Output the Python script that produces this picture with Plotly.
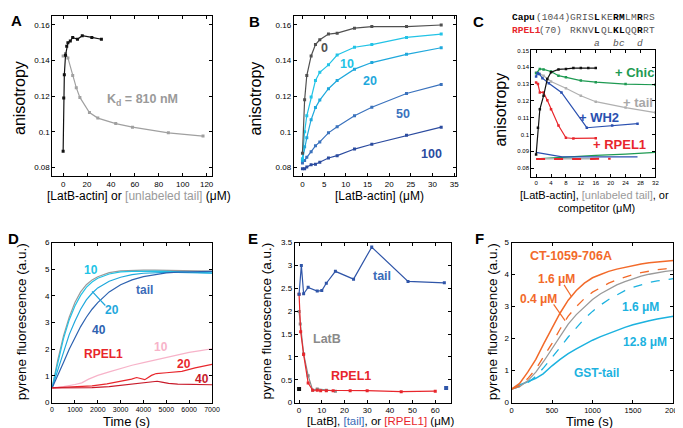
import plotly.graph_objects as go

W, H = 683, 428
FONT = "Liberation Sans, Arial, Helvetica, sans-serif"
MONO = "Liberation Mono, DejaVu Sans Mono, monospace"

# ---------------- Panel A ----------------
a_latb_x = [0, 0.5, 1, 2, 3, 4, 6, 8, 12, 16, 24, 32]
a_latb_y = [0.089, 0.119, 0.132, 0.143, 0.148, 0.150, 0.151, 0.153, 0.152, 0.154, 0.153, 0.152]
a_tail_x = [0, 2, 4, 8, 11, 14, 22, 29, 44, 58, 88, 117]
a_tail_y = [0.1426, 0.144, 0.1415, 0.1316, 0.1248, 0.1193, 0.1108, 0.1077, 0.1046, 0.1026, 0.0994, 0.0976]

# ---------------- Panel B ----------------
b_x = [0, 0.5, 1, 2, 3, 4, 6, 8, 12, 16, 24, 32]
b_0 = [0.088, 0.118, 0.1316, 0.1426, 0.149, 0.1517, 0.1549, 0.1554, 0.1582, 0.1591, 0.1591, 0.160]
b_10 = [0.0848, 0.100, 0.109, 0.1196, 0.1288, 0.1334, 0.1376, 0.1431, 0.1475, 0.149, 0.153, 0.1549]
b_20 = [0.0839, 0.0916, 0.0967, 0.1068, 0.1136, 0.1178, 0.1242, 0.1288, 0.1352, 0.1389, 0.1435, 0.1472]
b_50 = [0.0824, 0.0839, 0.0857, 0.0888, 0.0921, 0.0943, 0.0994, 0.1028, 0.109, 0.1138, 0.1215, 0.1266]
b_100 = [0.0793, 0.0793, 0.0802, 0.0815, 0.0818, 0.0829, 0.0853, 0.0866, 0.0903, 0.093, 0.098, 0.1026]

# ---------------- Panel C ----------------
c_latb_x = [0, 0.5, 1, 2, 3, 4, 6, 8, 10, 12, 14, 16]
c_latb_y = [0.088, 0.104, 0.115, 0.123, 0.133, 0.137, 0.1387, 0.139, 0.1395, 0.1395, 0.1395, 0.1395]
c_chic_x = [0, 1, 2, 4, 6, 8, 12, 16, 24, 32]
c_chic_y = [0.1364, 0.139, 0.1387, 0.1375, 0.135, 0.134, 0.1321, 0.1311, 0.130, 0.1296]
c_tail_x = [0, 0.5, 1, 2, 4, 8, 12, 16, 24, 32]
c_tail_y = [0.137, 0.137, 0.136, 0.135, 0.1315, 0.1275, 0.123, 0.1195, 0.116, 0.113]
c_wh2_x = [0, 0.42, 0.85, 1.7, 3.4, 6.8, 13.6, 20.4, 27.2]
c_wh2_y = [0.1345, 0.1365, 0.136, 0.1335, 0.1305, 0.125, 0.104, 0.1053, 0.1064]
c_rpel_x = [0, 0.5, 1, 2, 3, 4, 6, 8, 10, 16]
c_rpel_y = [0.131, 0.130, 0.125, 0.125, 0.1204, 0.115, 0.1053, 0.098, 0.0976, 0.0978]
c_ctl_blue_x = [0, 7, 27.2]
c_ctl_blue_y = [0.0893, 0.0866, 0.0866]
c_ctl_green_x = [0, 8, 16, 24, 32]
c_ctl_green_y = [0.0855, 0.0866, 0.0875, 0.0883, 0.0893]
c_ctl_gray_x = [0, 16]
c_ctl_gray_y = [0.0855, 0.0855]
c_ctl_red_x = [0, 20]
c_ctl_red_y = [0.0853, 0.0855]

# sequence header text of panel C
seq_capu = "GRISLKERMLMRRS"
seq_rpel = "RKNVLQLKLQQRRT"
seq_bold = [4, 7, 8, 11]
seq_marks = {4: "a", 7: "b", 8: "c", 11: "d"}

# ---------------- Panel D ----------------
d_t = [0, 250, 500, 750, 1000, 1250, 1500, 1750, 2000, 2500, 3000, 3500, 4000, 4500, 5000, 5500, 6000, 6500, 7000]
d_ctrl = [0.55, 1.6, 2.5, 3.2, 3.75, 4.15, 4.42, 4.6, 4.72, 4.87, 4.94, 4.96, 4.97, 4.97, 4.96, 4.95, 4.94, 4.93, 4.93]
d_tail10 = [0.55, 1.5, 2.4, 3.1, 3.62, 4.02, 4.32, 4.52, 4.66, 4.82, 4.9, 4.92, 4.93, 4.93, 4.92, 4.91, 4.9, 4.88, 4.86]
d_tail20 = [0.55, 1.2, 1.9, 2.55, 3.05, 3.5, 3.85, 4.1, 4.3, 4.55, 4.7, 4.8, 4.85, 4.87, 4.88, 4.88, 4.87, 4.86, 4.85]
d_tail40 = [0.55, 1.0, 1.5, 2.0, 2.45, 2.85, 3.2, 3.5, 3.75, 4.15, 4.42, 4.6, 4.72, 4.8, 4.86, 4.89, 4.9, 4.91, 4.92]
d_r10_t = [0, 500, 1000, 1300, 1600, 2000, 2500, 3000, 3500, 4000, 4500, 5000, 5500, 6000, 6500, 7000]
d_r10 = [0.55, 0.6, 0.68, 0.74, 0.88, 1.02, 1.15, 1.28, 1.4, 1.5, 1.6, 1.7, 1.8, 1.88, 1.95, 2.02]
d_r20_t = [0, 1000, 1750, 2400, 2900, 3200, 3480, 3700, 3850, 4060, 4350, 4560, 5000, 5680, 6260, 7000]
d_r20 = [0.55, 0.58, 0.63, 0.7, 0.78, 0.82, 0.88, 0.94, 0.9, 0.86, 1.02, 1.09, 1.12, 1.17, 1.3, 1.43]
d_r40_t = [0, 1750, 2500, 3300, 4300, 4600, 4800, 5100, 5500, 6000, 7000]
d_r40 = [0.55, 0.56, 0.6, 0.67, 0.76, 0.8, 0.77, 0.72, 0.69, 0.68, 0.67]

# ---------------- Panel E ----------------
e_tail_x = [0, 1, 2, 4, 8, 10, 12, 16, 24, 32, 48, 64]
e_tail_y = [2.37, 3.0, 2.38, 2.52, 2.44, 2.45, 2.61, 2.87, 2.70, 3.40, 2.65, 2.62]
e_rpel_x = [0, 0.7, 2, 4, 6, 8, 9.5, 12, 15, 22.5, 30, 45, 60]
e_rpel_y = [2.37, 1.55, 1.05, 0.43, 0.27, 0.27, 0.26, 0.26, 0.26, 0.26, 0.26, 0.24, 0.25]
e_latb_x = [0, 0.5, 2, 4, 6, 8, 12, 16]
e_latb_y = [1.99, 1.72, 1.07, 0.59, 0.27, 0.30, 0.27, 0.25]
e_ctl_black_x = [0]
e_ctl_black_y = [0.30]
e_ctl_blue_x = [64.8]
e_ctl_blue_y = [0.32]

# ---------------- Panel F ----------------
f_t = [0, 100, 200, 300, 400, 500, 600, 700, 800, 900, 1000, 1100, 1200, 1300, 1400, 1500, 1600, 1700, 1800, 1900, 2000]
f_ct16 = [0.42, 0.6, 0.95, 1.35, 1.85, 2.35, 2.8, 3.2, 3.5, 3.73, 3.9, 4.0, 4.1, 4.17, 4.23, 4.28, 4.33, 4.37, 4.4, 4.42, 4.44]
f_ct04 = [0.42, 0.52, 0.75, 1.05, 1.45, 1.85, 2.3, 2.7, 3.0, 3.25, 3.45, 3.6, 3.73, 3.84, 3.93, 4.0, 4.06, 4.11, 4.15, 4.18, 4.21]
f_ctrl = [0.42, 0.5, 0.68, 0.95, 1.3, 1.68, 2.05, 2.45, 2.75, 3.0, 3.22, 3.4, 3.55, 3.68, 3.78, 3.87, 3.95, 4.01, 4.06, 4.1, 4.13]
f_gst16 = [0.42, 0.5, 0.62, 0.82, 1.1, 1.4, 1.72, 2.05, 2.35, 2.62, 2.85, 3.05, 3.22, 3.37, 3.5, 3.6, 3.68, 3.75, 3.8, 3.84, 3.87]
f_gst128_t = [0, 100, 200, 300, 390, 450, 500, 600, 700, 800, 900, 1000, 1100, 1200, 1300, 1400, 1500, 1600, 1700, 1800, 1900, 2000]
f_gst128 = [0.42, 0.55, 0.65, 0.76, 0.9, 1.05, 1.15, 1.35, 1.53, 1.68, 1.82, 1.95, 2.06, 2.16, 2.26, 2.35, 2.43, 2.5, 2.56, 2.61, 2.66, 2.7]

# colours
BLACK = "#111111"
GRAY = "#a0a0a0"
CYAN1 = "#22c3e6"
CYAN2 = "#1fa8dc"
BLUE1 = "#3a72bd"
BLUE2 = "#2b4b9f"
GREEN = "#1e9a52"
RED = "#e8262c"
DRED = "#c81a2a"
PINK = "#f7b3c9"
ORANGE = "#f26a2a"
FCYAN = "#1cb2df"


def xd(a, b):
    return [a / W, b / W]


def yd(top, bottom):
    return [1 - bottom / H, 1 - top / H]


def axis(domain, rng, dtick, anchor, size=8, tick0=0):
    return dict(domain=domain, range=rng, dtick=dtick, tick0=tick0, anchor=anchor,
                ticks="inside", ticklen=3, tickwidth=1, tickcolor="black",
                showline=True, linecolor="black", linewidth=1, mirror="ticks",
                showgrid=False, zeroline=False, fixedrange=True,
                tickfont=dict(size=size, family=FONT, color="black"))


fig = go.Figure()


def line(x, y, color, ax, width=1.2, marker=True, dash=None, msize=3):
    fig.add_trace(go.Scatter(
        x=x, y=y, xaxis=ax[0], yaxis=ax[1],
        mode="lines+markers" if marker else "lines",
        line=dict(color=color, width=width, dash=dash),
        marker=dict(symbol="square", size=msize, color=color),
        showlegend=False, hoverinfo="skip"))


A = ("x", "y"); B = ("x2", "y2"); C = ("x3", "y3")
D = ("x4", "y4"); E = ("x5", "y5"); F = ("x6", "y6")

# A
line(a_tail_x, a_tail_y, GRAY, A)
line(a_latb_x, a_latb_y, BLACK, A)
# B
line(b_x, b_100, BLUE2, B)
line(b_x, b_50, BLUE1, B)
line(b_x, b_20, CYAN2, B)
line(b_x, b_10, CYAN1, B)
line(b_x, b_0, "#505050", B)
# C
line(c_ctl_green_x, c_ctl_green_y, GREEN, C, marker=False)
line(c_ctl_blue_x, c_ctl_blue_y, "#2a50b0", C, marker=False)
line(c_ctl_gray_x, c_ctl_gray_y, "#b0b0b0", C, marker=False, width=1.5)
line(c_ctl_red_x, c_ctl_red_y, RED, C, marker=False, width=2, dash="dash")
line(c_tail_x, c_tail_y, "#b0b0b0", C, msize=2.5)
line(c_chic_x, c_chic_y, GREEN, C, msize=2.5)
line(c_wh2_x, c_wh2_y, "#2a50b0", C, msize=2.5)
line(c_rpel_x, c_rpel_y, RED, C, msize=2.5)
line(c_latb_x, c_latb_y, BLACK, C, msize=2.5)
# D
line(d_t, d_ctrl, "#9a9a9a", D, marker=False)
line(d_t, d_tail10, CYAN1, D, marker=False)
line(d_t, d_tail20, CYAN2, D, marker=False)
line(d_t, d_tail40, "#2d62b0", D, marker=False)
line(d_r10_t, d_r10, PINK, D, marker=False)
line(d_r20_t, d_r20, RED, D, marker=False)
line(d_r40_t, d_r40, DRED, D, marker=False)
# E
line(e_latb_x, e_latb_y, "#888888", E)
line(e_rpel_x, e_rpel_y, RED, E)
line(e_tail_x, e_tail_y, "#2f55a8", E)
fig.add_trace(go.Scatter(x=e_ctl_black_x, y=e_ctl_black_y, xaxis="x5", yaxis="y5", mode="markers",
                         marker=dict(symbol="square", size=4, color=BLACK), showlegend=False, hoverinfo="skip"))
fig.add_trace(go.Scatter(x=e_ctl_blue_x, y=e_ctl_blue_y, xaxis="x5", yaxis="y5", mode="markers",
                         marker=dict(symbol="square", size=4, color="#2f55a8"), showlegend=False, hoverinfo="skip"))
# F
line(f_gst128_t, f_gst128, FCYAN, F, marker=False, width=1.5)
line(f_t, f_gst16, FCYAN, F, marker=False, width=1.3, dash="dash")
line(f_t, f_ctrl, "#9a9a9a", F, marker=False, width=1.3)
line(f_t, f_ct04, ORANGE, F, marker=False, width=1.3, dash="dash")
line(f_t, f_ct16, ORANGE, F, marker=False, width=1.5)

fig.update_layout(
    width=W, height=H, margin=dict(l=0, r=0, t=0, b=0),
    paper_bgcolor="white", plot_bgcolor="white",
    font=dict(family=FONT, color="black"),
    xaxis=axis(xd(43, 205), [-9, 124.5], 20, "y"),
    yaxis=axis(yd(4, 168), [0.0749, 0.1651], 0.02, "x"),
    xaxis2=axis(xd(288, 453), [-2, 35.5], 5, "y2"),
    yaxis2=axis(yd(4, 168), [0.0749, 0.1651], 0.02, "x2"),
    xaxis3=axis(xd(529, 655), [-1.3, 32], 4, "y3", size=6),
    yaxis3=axis(yd(39.3, 168.3), [0.0748, 0.15], 0.01, "x3", size=6),
    xaxis4=axis(xd(42.7, 205), [0, 7000], 1000, "y4", size=7),
    yaxis4=axis(yd(235.5, 399), [0, 6], 1, "x4"),
    xaxis5=axis(xd(289, 447.7), [-1.9, 67], 10, "y5"),
    yaxis5=axis(yd(235.5, 399), [0, 3.5], 0.5, "x5"),
    xaxis6=axis(xd(509, 673.3), [0, 2000], 500, "y6", size=7.5),
    yaxis6=axis(yd(235.5, 399), [0, 5], 1, "x6"),
)

ann = []


def pa(text, x, y, size=12, color="black", angle=0, bold=False, xanchor="center", family=FONT):
    if bold:
        text = "<b>" + text + "</b>"
    ann.append(dict(text=text, x=x / W, y=1 - y / H, xref="paper", yref="paper",
                    showarrow=False, textangle=angle, xanchor=xanchor, yanchor="middle",
                    font=dict(size=size, color=color, family=family)))


def da(text, x, y, ax, size=12.5, color="black", xanchor="center"):
    ann.append(dict(text="<b>" + text + "</b>", x=x, y=y, xref=ax[0], yref=ax[1],
                    showarrow=False, xanchor=xanchor, yanchor="middle",
                    font=dict(size=size, color=color, family=FONT)))


# panel letters
for letter, x, y in [("A", 7, 9), ("B", 248, 10), ("C", 475, 10), ("D", 4, 231), ("E", 247, 231), ("F", 476, 231)]:
    pa(letter, x, y, size=15, bold=True)

# axis titles
pa("anisotropy", 9, 88, size=16, angle=-90)
pa("anisotropy", 249, 88, size=16, angle=-90)
pa("anisotropy", 498, 100, size=16, angle=-90)
pa("pyrene fluorescence (a.u.)", 12, 316, size=13.5, angle=-90)
pa("pyrene fluorescence (a.u.)", 260, 316, size=13.5, angle=-90)
pa("pyrene fluorescence (a.u.)", 490, 316, size=13.5, angle=-90)
pa("[LatB-actin] or <span style='color:#9a9a9a'>[unlabeled tail]</span> (μM)", 131, 188, size=12)
pa("[LatB-actin] (μM)", 375, 188, size=12)
pa("[LatB-actin], <span style='color:#9a9a9a'>[unlabeled tail]</span>, or", 593, 186.5, size=11)
pa("competitor (μM)", 595, 200, size=11)
pa("Time (s)", 118, 418, size=13)
pa("[LatB], <span style='color:#3a6cb8'>[tail]</span>, or <span style='color:#e8262c'>[RPEL1]</span> (μM)", 376, 418, size=11.5)
pa("Time (s)", 588, 418, size=13)

# sequence header in C (each residue placed on a fixed monospace grid)
pa("Capu", 507, 6, size=9.5, bold=True, xanchor="left", family=MONO)
pa("(1044)", 532, 6, size=9.5, color="#555555", xanchor="left", family=MONO)
pa("RPEL1", 507, 19, size=9.5, bold=True, color=RED, xanchor="left", family=MONO)
pa("(70)", 535, 19, size=9.5, color="#555555", xanchor="left", family=MONO)
CW = 6.15
for i, (c1, c2) in enumerate(zip(seq_capu, seq_rpel)):
    cx = 568.5 + (i + 0.5) * CW
    bold = i in seq_bold
    col = "black" if bold else "#555555"
    pa(c1, cx, 6, size=9.5, bold=bold, color=col, family=MONO)
    pa(c2, cx, 19, size=9.5, bold=bold, color=col, family=MONO)
    if i in seq_marks:
        pa("<i>" + seq_marks[i] + "</i>", cx, 32, size=9.5, color="#555555", family=MONO)

# in-plot labels
da("K<sub>d</sub> = 810 nM", 35, 0.118, A, color="#9a9a9a", xanchor="left")
da("0", 5.1, 0.1472, B, color="#505050")
da("10", 10.3, 0.1383, B, color=CYAN1)
da("20", 15.6, 0.1288, B, color=CYAN2)
da("50", 23.1, 0.110, B, color=BLUE1)
da("100", 29.8, 0.0875, B, color=BLUE2)
da("+ Chic", 26.3, 0.1369, C, size=13, color=GREEN)
da("+ tail", 27.2, 0.1188, C, size=13, color="#a8a8a8")
da("+ WH2", 17, 0.1103, C, size=13, color="#2a50b0")
da("+ RPEL1", 22.3, 0.0942, C, size=13, color=RED)
da("10", 1690, 4.96, D, size=12, color=CYAN1)
da("tail", 4054, 4.23, D, size=12, color="#3c6cb8")
da("20", 2614, 3.48, D, size=12, color=CYAN2)
da("40", 2040, 2.71, D, size=12, color="#2d62b0")
da("RPEL1", 2256, 1.81, D, size=12, color=RED)
da("10", 4770, 2.1, D, size=12, color=PINK)
da("20", 5780, 1.46, D, size=12, color=RED)
da("40", 6569, 0.89, D, size=12, color=DRED)
da("tail", 36.4, 2.77, E, color="#3a6cb8")
da("LatB", 12.3, 1.39, E, color="#8a8a8a")
da("RPEL1", 22.7, 0.58, E, color=RED)
da("CT-1059-706A", 730, 4.57, F, size=12.5, color=ORANGE)
da("1.6 μM", 552, 3.86, F, size=12, color=ORANGE)
da("0.4 μM", 337, 3.25, F, size=12, color=ORANGE)
da("1.6 μM", 1595, 3.0, F, size=12, color=FCYAN)
da("12.8 μM", 1647, 1.9, F, size=12, color=FCYAN)
da("GST-tail", 1047, 0.94, F, size=12, color=FCYAN)

fig.update_layout(annotations=ann)

# leader lines
fig.add_shape(type="line", xref="x4", yref="y4", x0=1752, y0=4.17, x1=2330, y1=3.64,
              line=dict(color=CYAN2, width=1.2))
fig.add_shape(type="line", xref="x6", yref="y6", x0=649, y0=3.68, x1=743, y1=3.3,
              line=dict(color=ORANGE, width=1.2))
fig.add_shape(type="line", xref="x6", yref="y6", x0=520, y0=3.07, x1=661, y1=2.56,
              line=dict(color=ORANGE, width=1.2))

fig.write_html("out.html")
